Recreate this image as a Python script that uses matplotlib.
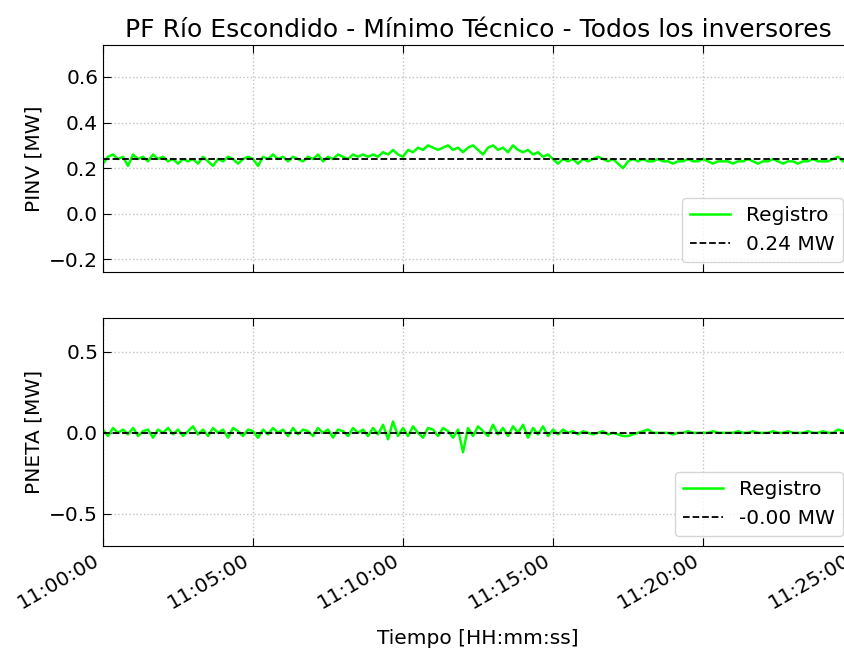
import matplotlib
matplotlib.use("Agg")
from matplotlib import pyplot as plt
import matplotlib.dates as mdates
import pandas as pd

# samples every 10 s, 11:00:00 .. 11:25:00
start = "2023-01-01 11:00:00"
n_points = 151

pinv = [
    0.22, 0.25, 0.26, 0.24, 0.25, 0.21,
    0.26, 0.24, 0.25, 0.23, 0.26, 0.24,
    0.25, 0.23, 0.24, 0.22, 0.24, 0.23,
    0.24, 0.22, 0.25, 0.23, 0.21, 0.24,
    0.23, 0.25, 0.24, 0.22, 0.24, 0.25,
    0.24, 0.21, 0.25, 0.24, 0.26, 0.24,
    0.25, 0.23, 0.25, 0.24, 0.23, 0.25,
    0.24, 0.26, 0.23, 0.25, 0.24, 0.26,
    0.25, 0.24, 0.26, 0.25, 0.26, 0.25,
    0.26, 0.25, 0.27, 0.26, 0.28, 0.26,
    0.25, 0.28, 0.27, 0.29, 0.28, 0.30,
    0.29, 0.28, 0.29, 0.30, 0.28, 0.29,
    0.27, 0.29, 0.30, 0.28, 0.26, 0.29,
    0.30, 0.28, 0.29, 0.27, 0.30, 0.28,
    0.27, 0.28, 0.26, 0.27, 0.25, 0.26,
    0.24, 0.22, 0.24, 0.23, 0.24, 0.22,
    0.24, 0.23, 0.24, 0.25, 0.24, 0.23,
    0.24, 0.22, 0.20, 0.23, 0.24, 0.23,
    0.24, 0.23, 0.23, 0.24, 0.23, 0.23,
    0.22, 0.23, 0.23, 0.24, 0.23, 0.23,
    0.24, 0.23, 0.22, 0.23, 0.23, 0.23,
    0.22, 0.23, 0.23, 0.24, 0.23, 0.22,
    0.23, 0.23, 0.24, 0.23, 0.22, 0.23,
    0.23, 0.22, 0.23, 0.23, 0.24, 0.23,
    0.23, 0.23, 0.24, 0.25, 0.23, 0.23,
    0.23,
]

pneta = [
    0.02, -0.02, 0.03, 0.00, 0.02, -0.01,
    0.03, -0.02, 0.01, 0.02, -0.03, 0.02,
    0.00, 0.03, -0.01, 0.02, -0.02, 0.01,
    0.04, -0.01, 0.02, -0.02, 0.03, 0.00,
    0.02, -0.03, 0.03, 0.01, -0.02, 0.02,
    0.01, -0.03, 0.02, -0.01, 0.03, 0.00,
    0.02, -0.02, 0.03, -0.01, 0.02, 0.01,
    -0.02, 0.03, 0.00, 0.02, -0.03, 0.02,
    0.01, -0.02, 0.03, 0.00, 0.02, -0.02,
    0.03, -0.01, 0.05, -0.04, 0.07, -0.02,
    0.03, -0.02, 0.04, 0.00, -0.03, 0.03,
    0.02, -0.02, 0.03, 0.01, -0.03, 0.02,
    -0.12, 0.03, -0.02, 0.04, 0.01, -0.02,
    0.05, -0.01, 0.03, -0.02, 0.04, 0.00,
    0.05, -0.03, 0.03, -0.01, 0.04, -0.02,
    0.02, -0.01, 0.02, 0.00, 0.01, -0.01,
    0.01, 0.00, -0.01, 0.00, 0.01, -0.01,
    0.00, -0.01, -0.02, -0.02, -0.01, 0.00,
    0.01, 0.02, 0.00, 0.00, 0.00, 0.00,
    -0.01, 0.00, 0.00, 0.01, 0.00, 0.00,
    0.00, 0.00, 0.01, 0.00, 0.00, 0.00,
    0.00, 0.01, 0.00, 0.00, 0.01, 0.00,
    0.00, 0.00, 0.01, 0.00, 0.00, 0.01,
    0.00, 0.00, 0.00, 0.01, 0.00, 0.00,
    0.01, 0.00, 0.00, 0.02, 0.01, 0.00,
    0.00,
]

pinv_ref = 0.24
pneta_ref = -0.00

times = pd.date_range(start, periods=n_points, freq="10s")

fig = plt.figure(figsize=(8.45, 6.51), dpi=100)
ax1 = fig.add_axes([0.1219, 0.5822, 0.8876, 0.3487])
ax2 = fig.add_axes([0.1219, 0.1613, 0.8876, 0.3502], sharex=ax1)

fs = 14.5
panels = [
    (ax1, pinv, pinv_ref, "PINV [MW]", (-0.255, 0.74), [-0.2, 0.0, 0.2, 0.4, 0.6]),
    (ax2, pneta, pneta_ref, "PNETA [MW]", (-0.70, 0.71), [-0.5, 0.0, 0.5]),
]
for ax, values, ref, ylabel, ylim, yticks in panels:
    ax.plot(times, values, color="#00ff00", lw=1.8, label="Registro")
    ax.axhline(ref, color="black", ls="--", lw=1.3, label=f"{ref:.2f} MW")
    ax.set_ylim(*ylim)
    ax.set_yticks(yticks)
    ax.set_ylabel(ylabel, fontsize=fs)
    ax.grid(True, ls=":", color="#c4c4c4", lw=1)
    ax.tick_params(direction="in", top=True, right=True, labelsize=fs, length=6)
    ax.legend(loc="lower right", fontsize=fs)

ax1.set_xlim(times[0], times[-1])
ax1.xaxis.set_major_locator(mdates.MinuteLocator(byminute=range(0, 60, 5)))
ax1.xaxis.set_major_formatter(mdates.DateFormatter("%H:%M:%S"))
ax1.tick_params(labelbottom=False)
plt.setp(ax2.get_xticklabels(), rotation=30, ha="right")
ax2.set_xlabel("Tiempo [HH:mm:ss]", fontsize=fs, labelpad=12)
ax1.set_title("PF Río Escondido - Mínimo Técnico - Todos los inversores", fontsize=18)

fig.savefig("out.png", dpi=100)
